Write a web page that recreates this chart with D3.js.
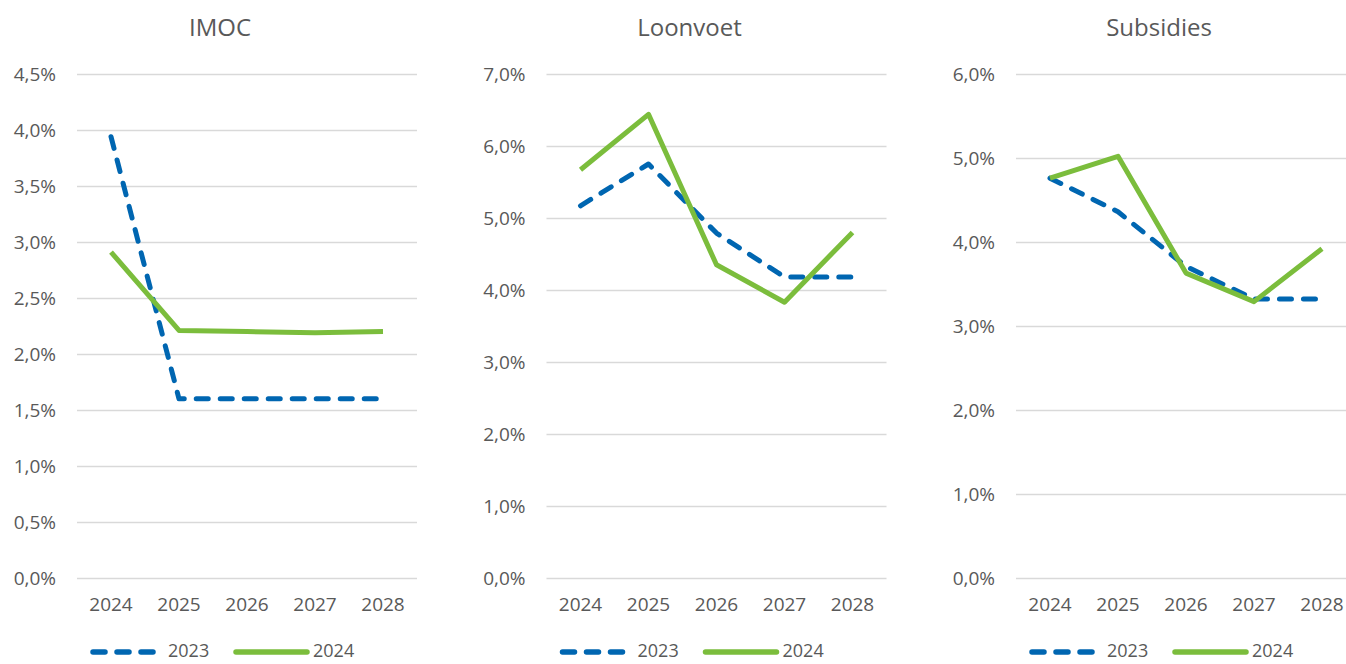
<!DOCTYPE html>
<html>
<head>
<meta charset="utf-8">
<script src="https://cdn.jsdelivr.net/npm/d3@7"></script>
<style>
  body { margin: 0; background: #fff; }
  svg text { font-family: "Open Sans", "Noto Sans", sans-serif; fill: #595959; }
</style>
</head>
<body>
<svg id="chart" width="1346" height="664"></svg>
<script>
// categories on the x axis
const years = ["2024", "2025", "2026", "2027", "2028"];
const seriesNames = ["2023", "2024"];

// IMOC
const imoc2023 = [3.94, 1.60, 1.60, 1.60, 1.60];
const imoc2024 = [2.91, 2.21, 2.20, 2.19, 2.20];
const imocTicks = [0, 0.5, 1, 1.5, 2, 2.5, 3, 3.5, 4, 4.5];

// Loonvoet
const loon2023 = [5.17, 5.75, 4.79, 4.18, 4.18];
const loon2024 = [5.67, 6.44, 4.35, 3.83, 4.80];
const loonTicks = [0, 1, 2, 3, 4, 5, 6, 7];

// Subsidies
const subs2023 = [4.76, 4.36, 3.71, 3.32, 3.32];
const subs2024 = [4.76, 5.02, 3.63, 3.29, 3.92];
const subsTicks = [0, 1, 2, 3, 4, 5, 6];

const titles = ["IMOC", "Loonvoet", "Subsidies"];

const panels = [
  { title: titles[0], s2023: imoc2023, s2024: imoc2024, ticks: imocTicks },
  { title: titles[1], s2023: loon2023, s2024: loon2024, ticks: loonTicks },
  { title: titles[2], s2023: subs2023, s2024: subs2024, ticks: subsTicks }
];

const blue = "#0066b1";
const green = "#7bbd3c";
const plotW = 340, plotTop = 74, plotBottom = 578;
const panelStep = 469.5, firstLeft = 77;

const svg = d3.select("#chart");
const fmt = v => d3.format(".1f")(v).replace(".", ",") + "%";

panels.forEach((p, i) => {
  const left = firstLeft + i * panelStep;
  const g = svg.append("g").attr("transform", "translate(" + left + ",0)");

  const x = d3.scaleBand().domain(years).range([0, plotW]);
  const y = d3.scaleLinear()
    .domain([0, d3.max(p.ticks)])
    .range([plotBottom, plotTop]);

  // title
  g.append("text")
    .attr("x", 143)
    .attr("y", 36)
    .attr("text-anchor", "middle")
    .style("font-size", "24px")
    .text(p.title);

  // y axis with gridlines
  const ya = g.append("g")
    .call(d3.axisLeft(y).tickValues(p.ticks).tickFormat(fmt).tickSize(-plotW).tickPadding(21));
  ya.select(".domain").remove();
  ya.selectAll("line").attr("stroke", "#d9d9d9").attr("stroke-width", 1.5);
  ya.selectAll("text").style("font-size", "19px").attr("fill", "#595959");

  // x axis
  const xa = g.append("g")
    .attr("transform", "translate(0," + plotBottom + ")")
    .call(d3.axisBottom(x).tickSize(0).tickPadding(20));
  xa.select(".domain").remove();
  xa.selectAll("text").style("font-size", "19px").attr("fill", "#595959");

  const line = d3.line()
    .x((d, j) => x(years[j]) + x.bandwidth() / 2)
    .y(d => y(d));

  g.append("path")
    .datum(p.s2023)
    .attr("d", line)
    .attr("fill", "none")
    .attr("stroke", blue)
    .attr("stroke-width", 5)
    .attr("stroke-dasharray", "12,12")
    .attr("stroke-linecap", "round")
    .attr("stroke-linejoin", "round");

  g.append("path")
    .datum(p.s2024)
    .attr("d", line)
    .attr("fill", "none")
    .attr("stroke", green)
    .attr("stroke-width", 5)
    .attr("stroke-linejoin", "round");

  // legend
  const lg = g.append("g").attr("transform", "translate(0,652)");
  lg.append("line")
    .attr("x1", 16).attr("x2", 78).attr("y1", 0).attr("y2", 0)
    .attr("stroke", blue).attr("stroke-width", 5.5)
    .attr("stroke-dasharray", "12,12").attr("stroke-linecap", "round");
  lg.append("text")
    .attr("x", 91).attr("y", 5)
    .style("font-size", "18px")
    .text(seriesNames[0]);
  lg.append("line")
    .attr("x1", 159).attr("x2", 230).attr("y1", 0).attr("y2", 0)
    .attr("stroke", green).attr("stroke-width", 5.5).attr("stroke-linecap", "round");
  lg.append("text")
    .attr("x", 236).attr("y", 5)
    .style("font-size", "18px")
    .text(seriesNames[1]);
});
</script>
</body>
</html>
